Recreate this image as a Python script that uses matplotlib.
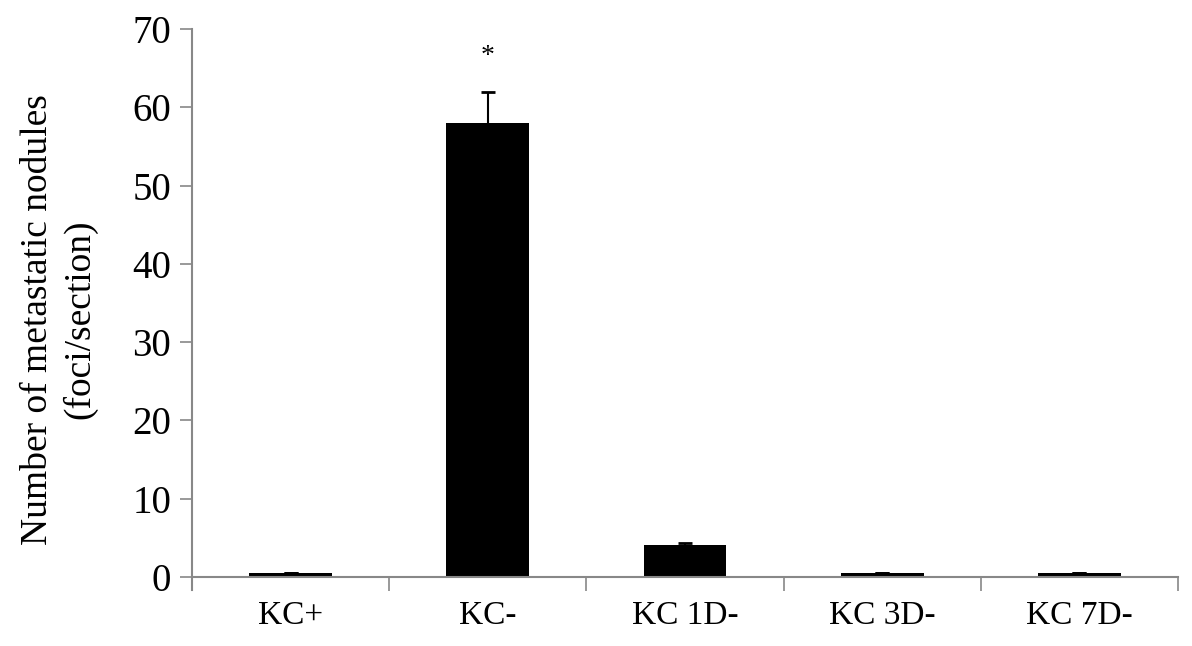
import matplotlib
matplotlib.use("Agg")
import matplotlib.pyplot as plt
import numpy as np

categories = ["KC+", "KC-", "KC 1D-", "KC 3D-", "KC 7D-"]
values = [0.5, 58.0, 4.1, 0.5, 0.5]
errors = [0.0, 4.0, 0.2, 0.0, 0.0]
yticks = [0, 10, 20, 30, 40, 50, 60, 70]

plt.rcParams['font.family'] = ['Liberation Serif', 'DejaVu Serif']

fig = plt.figure(figsize=(11.92, 6.46), dpi=100)
ax = fig.add_axes([192/1192, 1 - 577/646, (1178-192)/1192, (577-29)/646])

x = np.arange(len(categories))
ax.bar(x, values, width=0.42, color='black', yerr=errors,
       error_kw=dict(ecolor='black', elinewidth=1.5, capsize=5, capthick=2))
ax.text(x[1], 66.5, "*", ha='center', va='center', fontsize=20)

ax.set_xlim(-0.5, len(categories) - 0.5)
ax.set_ylim(0, 70)
ax.set_yticks(yticks)
ax.set_yticklabels([str(t) for t in yticks], fontsize=28)
ax.tick_params(axis='y', direction='out', length=9, width=1.2, color='#888888', pad=6)

ax.set_xticks(x)
ax.set_xticklabels(categories, fontsize=24)
ax.set_xticks(np.arange(len(categories) + 1) - 0.5, minor=True)
ax.tick_params(axis='x', which='major', length=0, pad=17)
ax.tick_params(axis='x', which='minor', direction='out', length=10, width=1.2, color='#888888')

for s in ['top', 'right']:
    ax.spines[s].set_visible(False)
ax.spines['left'].set_color('#888888')
ax.spines['bottom'].set_color('#888888')
ax.spines['left'].set_linewidth(1.5)
ax.spines['bottom'].set_linewidth(1.5)
ax.spines['left'].set_bounds(-1.65, 70)
ax.spines['left'].set_clip_on(False)

ax.set_ylabel("Number of metastatic nodules\n(foci/section)", fontsize=27, linespacing=1.25)
ax.yaxis.set_label_coords(-0.096, 0.47)

fig.savefig("out.png", dpi=100)
